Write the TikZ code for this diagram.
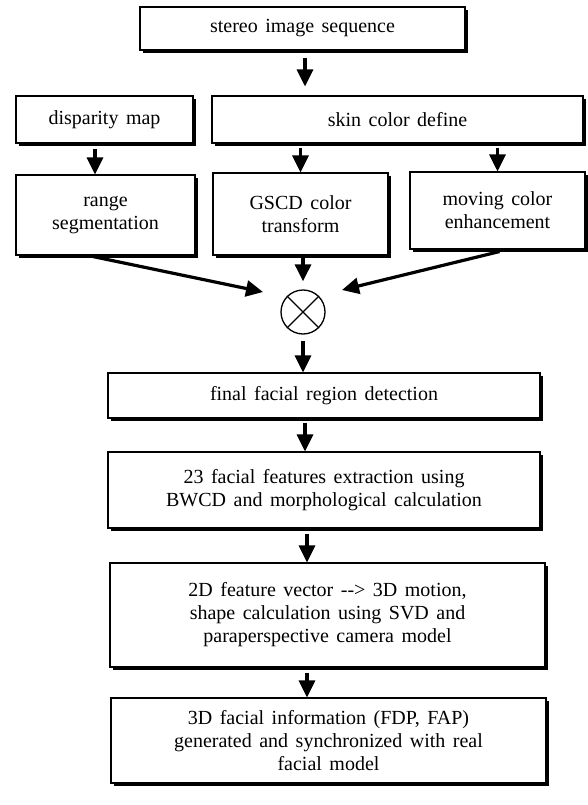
\documentclass[tikz,border=0pt]{standalone}
\usepackage{fontspec}
\setmainfont{Liberation Serif}[WordSpace=1.5]
\usetikzlibrary{arrows.meta,calc,shadows}
\begin{document}
\begin{tikzpicture}[x=1pt,y=-1pt,
  box/.style={draw, line width=1.1pt, fill=white, align=center, inner sep=0pt,
    font=\fontsize{20}{23}\selectfont,
    general shadow={fill=black, shadow xshift=2.8pt, shadow yshift=-2.8pt}},
  arr/.style={line width=3.2pt, -{Triangle[width=16pt,length=17pt]}},
]
\useasboundingbox (0,0) rectangle (588,805);

\node[box, minimum width=325pt, minimum height=43pt] (stereo) at (302.5,28.5) {stereo image sequence};
\node[box, minimum width=177pt, minimum height=47pt] (disp) at (104.5,119.5) {disparity map};
\node[box, minimum width=371pt, minimum height=47pt] (skin) at (397.5,119.5) {skin color define};
\node[box, minimum width=179pt, minimum height=80pt] (range) at (105.5,215) {range\\segmentation};
\node[box, minimum width=175pt, minimum height=82pt] (gscd) at (300.5,214) {GSCD color\\transform};
\node[box, minimum width=175pt, minimum height=77pt] (moving) at (497.5,210.5) {moving color\\enhancement};
\node[draw, circle, line width=1.3pt, minimum size=44pt, inner sep=0pt] (circ) at (303,312) {};
\draw[line width=1.1pt] (circ.north west) -- (circ.south east) (circ.north east) -- (circ.south west);
\node[box, minimum width=432pt, minimum height=45pt] (final) at (324,395.5) {final facial region detection};
\node[box, minimum width=432pt, minimum height=76pt] (feat) at (324,490) {23 facial features extraction using\\BWCD and morphological calculation};
\node[box, minimum width=435pt, minimum height=104pt] (vec) at (327.5,615) {2D feature vector -{}-{}> 3D motion,\\shape calculation using SVD and\\paraperspective camera model};
\node[box, minimum width=435pt, minimum height=85pt] (info) at (328.5,740.5) {3D facial information (FDP, FAP)\\generated and synchronized with real\\facial model};

\coordinate (a1) at ($(stereo.south)+(2.5,7)$);
\draw[arr] (a1) -- ($(skin.north -| a1)+(0,-9)$);
\coordinate (a2) at ($(disp.south)+(-9.5,5)$);
\draw[arr] (a2) -- (range.north -| a2);
\draw[arr] ($(skin.south -| gscd.north)+(0,4)$) -- (gscd.north);
\draw[arr] ($(skin.south -| moving.north)+(0,4)$) -- (moving.north);
\draw[arr] ($(range.south)+(-12.5,1)$) -- ($(circ.center)+(-40,-20)$);
\draw[arr] ($(gscd.south -| circ.north)+(0,2)$) -- ($(circ.north)+(0,-8)$);
\draw[arr] ($(moving.south)+(2,2)$) -- ($(circ.center)+(39,-22)$);
\draw[arr] ($(circ.south)+(0,6)$) -- (final.north -| circ.south);
\coordinate (a9) at ($(final.south)+(-19,4)$);
\draw[arr] (a9) -- (feat.north -| a9);
\coordinate (a10) at ($(feat.south)+(-17,5)$);
\draw[arr] (a10) -- (vec.north -| a10);
\coordinate (a11) at ($(vec.south)+(-20.5,5)$);
\draw[arr] (a11) -- (info.north -| a11);
\end{tikzpicture}
\end{document}
